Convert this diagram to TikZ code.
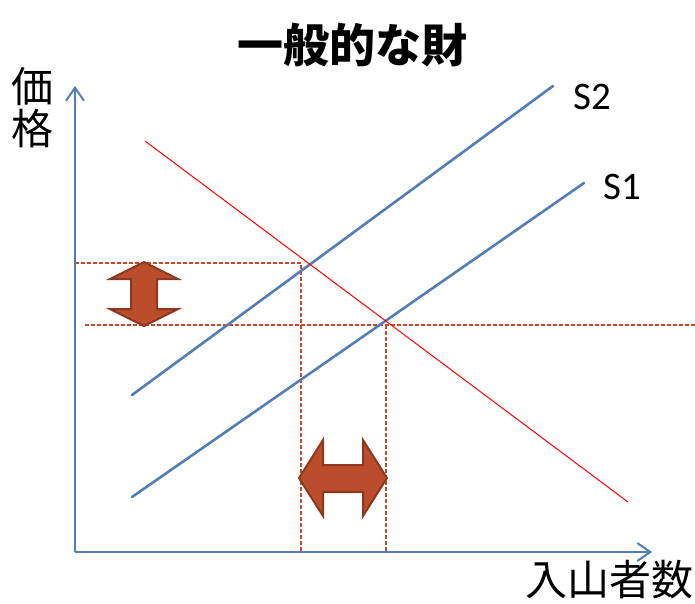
\documentclass[tikz,border=0pt]{standalone}
\usepackage{fontspec}
\setmainfont{Carlito}
\newfontfamily\jpfont{Noto Sans CJK JP}
\usetikzlibrary{arrows.meta}
\definecolor{axisblue}{RGB}{84,125,180}
\definecolor{guidebrown}{RGB}{200,72,40}
\definecolor{arrowfill}{RGB}{187,77,44}
\definecolor{arrowedge}{RGB}{140,56,30}
\tikzset{
  axis/.style={draw=axisblue, line width=2pt, -{Straight Barb[length=13pt,width=18pt,line width=2pt]}},
  supply/.style={draw=axisblue, line width=2.6pt, line cap=round},
  demand/.style={draw=red, line width=1pt},
  guide/.style={draw=guidebrown, line width=1.1pt, dash pattern=on 4pt off 2pt},
  bigarrow/.style={fill=arrowfill, draw=arrowedge, line width=2pt, line join=miter},
  jplabel/.style={font=\jpfont\fontsize{42}{42}\selectfont, inner sep=0pt, align=center},
  curvelabel/.style={font=\fontsize{39}{40}\selectfont, inner sep=0pt}
}

\begin{document}
\begin{tikzpicture}[x=1pt, y=-1pt]
\useasboundingbox (0,0) rectangle (695,603);
\node (title) at (352,45) {\jpfont\bfseries\fontsize{46}{48}\selectfont 一般的な財};
\node [jplabel] (price) at (32,108) {価\\格};
\node [jplabel] (qty) at (609,580) {入山者数};

% guide lines
\coordinate (O) at (75,552);
\coordinate (P2) at (301,263);
\coordinate (P1) at (386,325);
\coordinate (g1l) at (85,325);
\coordinate (g1r) at (695,325);
\draw [guide] (P2 -| O) -- (P2) -- (P2 |- O);
\draw [guide] (g1l) -- (g1r);
\draw [guide] (P1) -- (P1 |- O);

% axes
\coordinate (ytop) at (75,86);
\coordinate (xend) at (652,552);
\draw [axis] (O) -- (ytop);
\draw [axis] (O) -- (xend);

% supply and demand
\coordinate (s2a) at (132,395);
\coordinate (s2b) at (553,86);
\coordinate (s1a) at (132,497);
\coordinate (s1b) at (584,183);
\coordinate (da) at (145,141);
\coordinate (db) at (628,502);
\draw [supply] (s2a) -- (s2b);
\draw [supply] (s1a) -- (s1b);
\draw [demand] (da) -- (db);
\node [curvelabel] (S2) at (592,97) {S2};
\node [curvelabel] (S1) at (622,187) {S1};

% double arrows
\draw [bigarrow] (144,262) -- (178,279) -- (157,279) -- (157,309) -- (178,309) -- (144,326)
  -- (110,309) -- (131,309) -- (131,279) -- (110,279) -- cycle;
\draw [bigarrow] (299,478) -- (323,440) -- (323,465) -- (363,465) -- (363,440) -- (387,478)
  -- (363,516) -- (363,492) -- (323,492) -- (323,516) -- cycle;
\end{tikzpicture}
\end{document}
